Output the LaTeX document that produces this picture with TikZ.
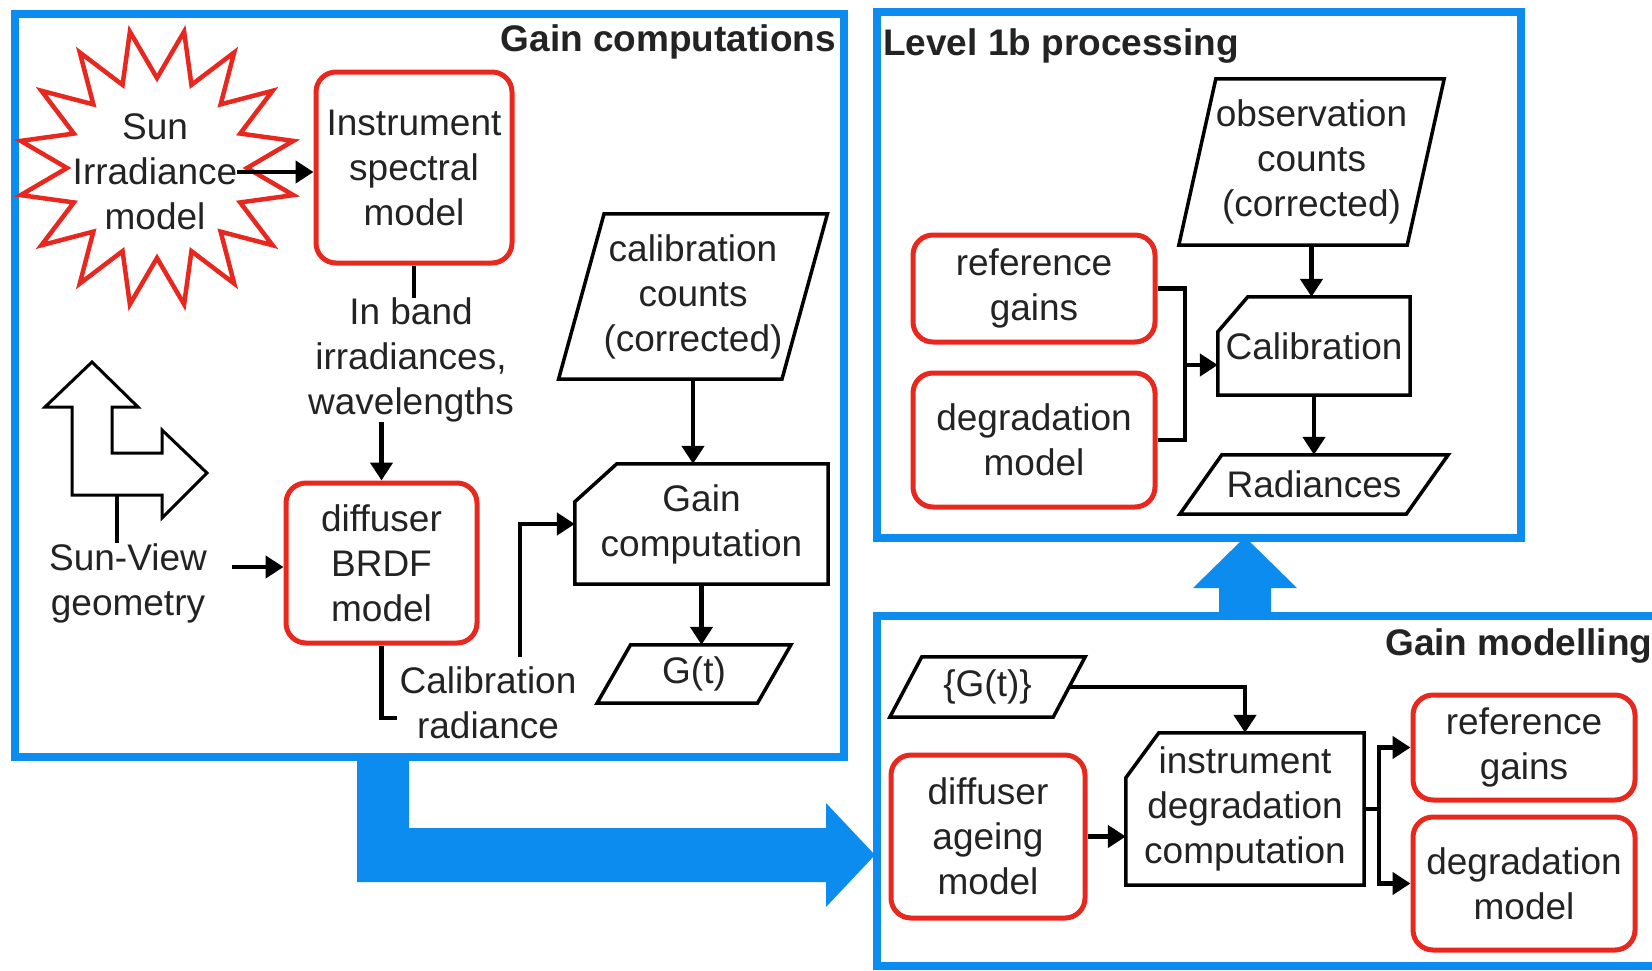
\documentclass[tikz,border=0pt]{standalone}
\usepackage{fontspec}
\setmainfont{Liberation Sans}
\usetikzlibrary{arrows.meta,calc}
\definecolor{panelblue}{RGB}{12,140,238}
\definecolor{boxred}{RGB}{232,40,30}
\definecolor{ink}{RGB}{35,35,35}
\newcommand{\paral}[2]{%
  \draw[outline] ($(#1.north west)+(#2/2,0)$) -- ($(#1.north east)+(#2/2,0)$) -- ($(#1.south east)-(#2/2,0)$) -- ($(#1.south west)-(#2/2,0)$) -- cycle;}
\newcommand{\chamf}[3]{%
  \draw[outline] ($(#1.north west)+(#2,0)$) -- (#1.north east) -- (#1.south east) -- (#1.south west) -- ($(#1.north west)+(0,#3)$) -- cycle;}
\begin{document}
\begin{tikzpicture}[x=1pt,y=-1pt,
  txt/.style={font=\fontsize{37}{45}\selectfont, text=ink, align=center, inner sep=0pt},
  title/.style={font=\fontsize{37}{45}\selectfont\bfseries, text=ink, inner sep=0pt},
  redbox/.style={txt, draw=boxred, line width=5pt, rounded corners=20pt, fill=white},
  conn/.style={draw=black, line width=4.5pt},
  arr/.style={conn, -{Triangle[length=18pt,width=22pt]}},
  outline/.style={draw=black, line width=3.5pt, line join=miter},
  panel/.style={draw=panelblue, line width=8pt}]
\useasboundingbox (0,0) rectangle (1652,970);
\clip (0,0) rectangle (1652,970);
\fill[white] (0,0) rectangle (1652,970);

% panels
\draw[panel] (15,14) rectangle (844,757);
\draw[panel] (877,12) rectangle (1521,538);
\draw[panel] (877,616) rectangle (1720,966);

% big blue arrows
\fill[panelblue] (1245,537) -- (1297,588) -- (1271,588) -- (1271,616) -- (1219,616) -- (1219,588) -- (1193,588) -- cycle;
\fill[panelblue] (357,757) -- (409,757) -- (409,828) -- (826,828) -- (826,803) -- (875,855) -- (826,907) -- (826,882) -- (357,882) -- cycle;

% titles
\node[title, anchor=base east] (tgc) at (836,51) {Gain computations};
\node[title, anchor=base west] (tlb) at (883,55) {Level 1b processing};
\node[title, anchor=base west] (tgm) at (1385,655) {Gain modelling};

% ---- Gain computations ----
\begin{scope}[shift={(157,168)}]
\draw[draw=boxred, line width=4.5pt, line join=miter, fill=white] (11.25:139)
  \foreach \i in {0,...,14}{ -- ({22.5+22.5*\i}:90) -- ({33.75+22.5*\i}:139)} -- (360:90) -- cycle;
\end{scope}
\node[txt] (sun) at (155,172) {Sun\\Irradiance\\model};
\node[redbox, minimum width=196pt, minimum height=191pt] (instr) at (414,167.5) {Instrument\\spectral\\model};
\node[txt] (inband) at (411,360) {In band\\irradiances,\\wavelengths};
\node[redbox, minimum width=191pt, minimum height=160pt] (brdf) at (381.5,563) {diffuser\\BRDF\\model};
\node[txt] (sunview) at (128,583) {Sun-View\\geometry};
\node[txt] (calrad) at (488,703) {Calibration\\radiance};
\node[txt, minimum width=223pt, minimum height=165pt] (calcnt) at (693,296.5) {calibration\\counts\\(corrected)};
\paral{calcnt}{45.5}
\node[txt, minimum width=253pt, minimum height=120pt] (gaincomp) at (701.5,524) {Gain\\computation};
\chamf{gaincomp}{42}{38}
\node[txt, minimum width=160pt, minimum height=58pt] (gt) at (694,674) {G(t)};
\paral{gt}{33.5}

% sun-view geometry icon
\draw[outline, line width=3pt] (92,362) -- (138,407) -- (112,407) -- (112,453) -- (162,453) -- (162,430) -- (207,473) -- (162,518) -- (162,495) -- (72,495) -- (72,407) -- (45,407) -- cycle;

\draw[arr] (sun.east) -- (sun.east -| instr.west);
\draw[conn] (instr.south) -- (instr.south |- inband.north);
\draw[arr] (brdf.north |- inband.south) -- (brdf.north);
\coordinate (svA) at (232,567);
\draw[arr] (svA) -- (svA -| brdf.west);
\coordinate (stemA) at (117,495);
\draw[conn] (stemA) -- (stemA |- sunview.north);
\coordinate (crA) at (397,718);
\draw[conn] (brdf.south) |- (crA);
\coordinate (crB) at (520,657);
\draw[arr] (crB) |- (gaincomp.west);
\draw[arr] (calcnt.south) -- (calcnt.south |- gaincomp.north);
\draw[arr] (gaincomp.south) -- (gaincomp.south |- gt.north);

% ---- Level 1b processing ----
\node[txt, minimum width=228pt, minimum height=166pt] (obs) at (1311.5,162) {observation\\counts\\(corrected)};
\paral{obs}{37}
\node[txt, minimum width=192pt, minimum height=98pt] (calib) at (1314,346) {Calibration};
\chamf{calib}{30}{35}
\node[txt, minimum width=226pt, minimum height=59pt] (rad) at (1314,484.5) {Radiances};
\paral{rad}{42}
\node[redbox, minimum width=242pt, minimum height=107pt] (refgA) at (1034,288.5) {reference\\gains};
\node[redbox, minimum width=242pt, minimum height=134pt] (degA) at (1034,440) {degradation\\model};
\draw[arr] (obs.south) -- (obs.south |- calib.north);
\draw[arr] (calib.south) -- (calib.south |- rad.north);
\coordinate (jA) at (1185,365);
\draw[conn] (refgA.east) -| (jA);
\draw[conn] (degA.east) -| (jA);
\draw[arr] (jA) -- (jA -| calib.west);

% ---- Gain modelling ----
\node[txt, minimum width=163pt, minimum height=60pt] (gset) at (987.5,687) {\{G(t)\}};
\paral{gset}{32}
\node[redbox, minimum width=194pt, minimum height=163pt] (ageing) at (988,836.5) {diffuser\\ageing\\model};
\node[txt, minimum width=238pt, minimum height=152pt] (instdeg) at (1245,809) {instrument\\degradation\\computation};
\chamf{instdeg}{33}{45}
\node[redbox, minimum width=222pt, minimum height=105pt] (refgB) at (1524,747.5) {reference\\gains};
\node[redbox, minimum width=222pt, minimum height=133pt] (degB) at (1524,883.5) {degradation\\model};
\draw[arr] (gset.east) -| (instdeg.north);
\draw[arr] (ageing.east) -- (ageing.east -| instdeg.west);
\coordinate (jB) at (1379,809);
\draw[conn] (instdeg.east) -- (jB);
\draw[arr] (jB) |- (refgB.west);
\draw[arr] (jB) |- (degB.west);
\end{tikzpicture}
\end{document}
